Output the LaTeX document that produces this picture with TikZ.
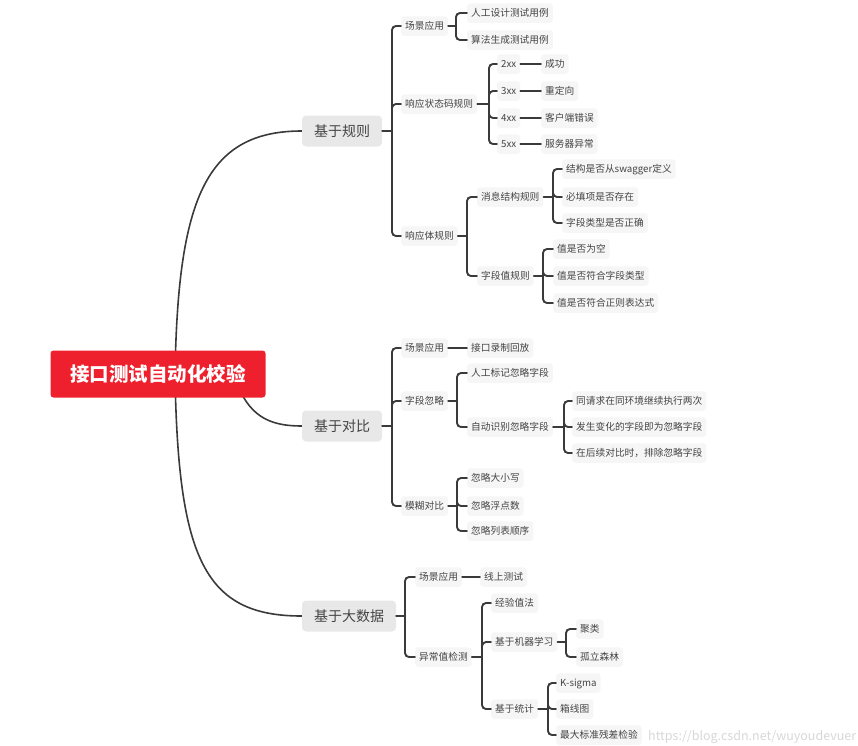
\documentclass[tikz,border=0pt]{standalone}
\usepackage{fontspec}
\setmainfont{Noto Sans CJK SC}
\usetikzlibrary{calc}
\pgfdeclarelayer{bg}
\pgfsetlayers{bg,main}
\definecolor{rootred}{RGB}{238,32,45}
\definecolor{lineg}{RGB}{58,58,58}
\definecolor{txtg}{RGB}{68,68,68}
\definecolor{lvfill}{RGB}{232,232,232}
\definecolor{lffill}{RGB}{246,246,246}
\definecolor{wmark}{RGB}{215,215,215}
\tikzset{
  rootbox/.style={fill=rootred,text=white,rounded corners=3pt,font=\fontsize{19.5}{22}\selectfont\bfseries,
    minimum width=215pt,minimum height=47pt,inner sep=0pt},
  lvone/.style={fill=lvfill,text=txtg,rounded corners=4pt,font=\fontsize{14}{16}\selectfont,
    inner xsep=12pt,minimum height=31pt,inner ysep=0pt},
  leaf/.style={fill=lffill,text=txtg,rounded corners=3pt,font=\fontsize{9.7}{11}\selectfont,
    inner xsep=4pt,inner ysep=5pt,text height=8.4pt,text depth=1.1pt,anchor=west},
  conn/.style={draw=lineg,line width=1.9pt,line cap=round},
  curveconn/.style={draw=lineg,line width=1.6pt,line cap=round},
}
\newcommand\lf[4]{\node[leaf] (#1) at (#3-4,#4) {#2};}
\newcommand\brk[3]{%
  \coordinate (#1br) at (#2,0);
  \draw[conn] (#1.east) -- (#1.east -| #1br);
  \foreach \c in {#3} {\draw[conn,rounded corners=4pt] (#1.east -| #1br) |- (\c.west);}%
}
\newcommand\lnk[2]{\draw[conn] (#1.east) -- (#2.west);}
\begin{document}
\begin{tikzpicture}[x=1pt,y=-1pt]
\useasboundingbox (0,0) rectangle (858,745);
% root and level 1
\node[rootbox] (root) at (158,374) {接口测试自动化校验};
\node[lvone] (A) at (342,131) {基于规则};
\node[lvone] (B) at (342,426) {基于对比};
\node[lvone] (C) at (349,616) {基于大数据};
\begin{pgfonlayer}{bg}
\draw[curveconn] ($(root.center)+(17,0)$) .. controls (178,200) and (205,131) .. (A.west);
\draw[curveconn] ($(root.south east)+(-27,-10)$) .. controls (252,418) and (272,426) .. (B.west);
\draw[curveconn] ($(root.center)+(17,0)$) .. controls (178,560) and (205,616) .. (C.west);
\end{pgfonlayer}
% ---- A ----
\lf{a1}{场景应用}{405}{26}
\lf{a2}{响应状态码规则}{405}{104}
\lf{a3}{响应体规则}{405}{236}
\brk{A}{392}{a1,a2,a3}
\lf{a11}{人工设计测试用例}{471}{13}
\lf{a12}{算法生成测试用例}{471}{40}
\brk{a1}{456}{a11,a12}
\lf{a21}{2xx}{501}{64}
\lf{a22}{3xx}{501}{91}
\lf{a23}{4xx}{501}{118}
\lf{a24}{5xx}{501}{144}
\brk{a2}{489}{a21,a22,a23,a24}
\lf{a21x}{成功}{545}{64}
\lf{a22x}{重定向}{545}{91}
\lf{a23x}{客户端错误}{545}{118}
\lf{a24x}{服务器异常}{545}{144}
\lnk{a21}{a21x}\lnk{a22}{a22x}\lnk{a23}{a23x}\lnk{a24}{a24x}
\lf{a31}{消息结构规则}{481}{197}
\lf{a32}{字段值规则}{481}{276}
\brk{a3}{467}{a31,a32}
\lf{a311}{结构是否从swagger定义}{566}{169}
\lf{a312}{必填项是否存在}{566}{197}
\lf{a313}{字段类型是否正确}{566}{223}
\brk{a31}{553}{a311,a312,a313}
\lf{a321}{值是否为空}{557}{249}
\lf{a322}{值是否符合字段类型}{557}{276}
\lf{a323}{值是否符合正则表达式}{557}{303}
\brk{a32}{543}{a321,a322,a323}
% ---- B ----
\lf{b1}{场景应用}{405}{348}
\lf{b2}{字段忽略}{405}{401}
\lf{b3}{模糊对比}{405}{506}
\brk{B}{392}{b1,b2,b3}
\lf{b11}{接口录制回放}{471}{348}
\lnk{b1}{b11}
\lf{b21}{人工标记忽略字段}{471}{373}
\lf{b22}{自动识别忽略字段}{471}{427}
\brk{b2}{457}{b21,b22}
\lf{b221}{同请求在同环境继续执行两次}{576}{401}
\lf{b222}{发生变化的字段即为忽略字段}{576}{427}
\lf{b223}{在后续对比时，排除忽略字段}{576}{453}
\brk{b22}{564}{b221,b222,b223}
\lf{b31}{忽略大小写}{471}{478}
\lf{b32}{忽略浮点数}{471}{506}
\lf{b33}{忽略列表顺序}{471}{531}
\brk{b3}{457}{b31,b32,b33}
% ---- C ----
\lf{c1}{场景应用}{419}{577}
\lf{c2}{异常值检测}{419}{657}
\brk{C}{405}{c1,c2}
\lf{c11}{线上测试}{484}{577}
\lnk{c1}{c11}
\lf{c21}{经验值法}{495}{603}
\lf{c22}{基于机器学习}{495}{642}
\lf{c23}{基于统计}{495}{709}
\brk{c2}{482}{c21,c22,c23}
\lf{c221}{聚类}{580}{629}
\lf{c222}{孤立森林}{580}{657}
\brk{c22}{566}{c221,c222}
\lf{c231}{K-sigma}{560}{683}
\lf{c232}{箱线图}{560}{709}
\lf{c233}{最大标准残差检验}{560}{735}
\brk{c23}{548}{c231,c232,c233}
% watermark
\node[anchor=west,text=wmark,font=\fontsize{12.5}{14}\selectfont,inner sep=0pt] (wm) at (648,737) {https://blog.csdn.net/wuyoudevuer};
\end{tikzpicture}
\end{document}
